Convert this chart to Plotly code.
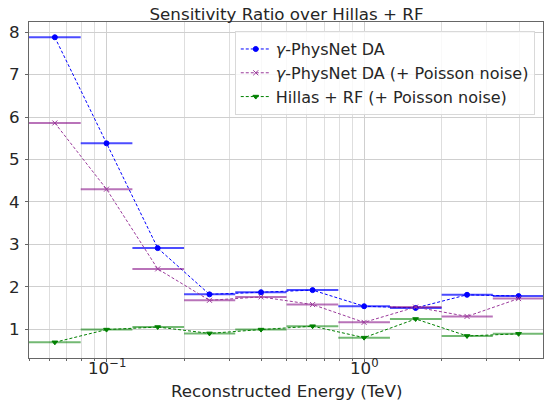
import numpy as np
import plotly.graph_objects as go

energy_lo = [0.05, 0.0794, 0.126, 0.2, 0.316, 0.5, 0.794, 1.26, 2.0, 3.16]
energy_hi = [0.0794, 0.126, 0.2, 0.316, 0.5, 0.794, 1.26, 2.0, 3.16, 5.0]
energy_center = [0.063, 0.1, 0.158, 0.251, 0.398, 0.631, 1.0, 1.585, 2.51, 3.98]

physnet_da = [7.88, 5.38, 2.91, 1.82, 1.87, 1.92, 1.54, 1.50, 1.81, 1.78]
physnet_da_poisson = [5.86, 4.30, 2.42, 1.68, 1.76, 1.58, 1.16, 1.52, 1.30, 1.72]
hillas_rf_poisson = [0.69, 0.99, 1.05, 0.90, 0.99, 1.07, 0.80, 1.24, 0.84, 0.89]

x_tick_vals = [0.1, 1.0]
x_tick_text = ["10<sup>−1</sup>", "10<sup>0</sup>"]

series = [
    ("<i>γ</i>-PhysNet DA", physnet_da, "#0000ff", "rgba(0,0,255,0.7)", "circle", 5),
    ("<i>γ</i>-PhysNet DA (+ Poisson noise)", physnet_da_poisson, "#9b3a9b", "rgba(128,0,128,0.55)", "x-thin-open", 5),
    ("Hillas + RF (+ Poisson noise)", hillas_rf_poisson, "#008000", "rgba(0,128,0,0.55)", "triangle-down", 5),
]

x = np.array(energy_center)
plus = np.array(energy_hi) - x
minus = x - np.array(energy_lo)

fig = go.Figure()
for name, vals, col, ecol, sym, ms in series:
    fig.add_trace(go.Scatter(
        x=energy_center, y=vals, name=name, mode="lines+markers",
        line=dict(color=col, width=1, dash="3px,2px"),
        marker=dict(color=col, symbol=sym, size=ms, line=dict(color=col, width=1)),
        error_x=dict(type="data", symmetric=False, array=plus, arrayminus=minus,
                     color=ecol, thickness=2, width=0),
    ))

minor_vals = []
for dec in [0.01, 0.1, 1.0]:
    for m in range(2, 10):
        v = m * dec
        if 0.05 <= v <= 5.0:
            minor_vals.append(v)

annotations = []
for v, t in zip(x_tick_vals, x_tick_text):
    annotations.append(dict(x=np.log10(v), y=-0.026, xref="x", yref="paper",
                            text=t, showarrow=False, xanchor="center", yanchor="middle",
                            font=dict(size=16.7, color="#262626")))
annotations.append(dict(x=0.5, y=-0.097, xref="paper", yref="paper",
                        text="Reconstructed Energy (TeV)", showarrow=False,
                        xanchor="center", yanchor="middle",
                        font=dict(size=16.7, color="#262626")))

fig.update_layout(
    width=551, height=407,
    margin=dict(l=29, r=8, t=22, b=49, autoexpand=False),
    paper_bgcolor="white", plot_bgcolor="white",
    font=dict(family="DejaVu Sans", size=16.7, color="#262626"),
    title=dict(text="Sensitivity Ratio over Hillas + RF", x=0.52, xanchor="center",
               y=0.9656, yanchor="middle", font=dict(size=16.7, color="#262626")),
    showlegend=True,
    legend=dict(x=0.984, y=0.973, xanchor="right", yanchor="top",
                bgcolor="rgba(255,255,255,0.8)", bordercolor="#d9d9d9", borderwidth=1,
                font=dict(size=16, color="#262626")),
    annotations=annotations,
    xaxis=dict(
        type="log", range=[np.log10(0.05), np.log10(4.95)],
        tickvals=x_tick_vals, showticklabels=False, automargin=False,
        showgrid=True, gridcolor="#cfcfcf", gridwidth=1,
        minor=dict(tickvals=minor_vals, showgrid=True, gridcolor="#dedede", gridwidth=1,
                   ticks="outside", ticklen=2, tickcolor="#666"),
        ticks="outside", ticklen=3, tickcolor="#666",
        showline=True, linecolor="#666", linewidth=1, mirror=True,
        zeroline=False,
    ),
    yaxis=dict(
        range=[0.32, 8.24], tickvals=[1, 2, 3, 4, 5, 6, 7, 8],
        tickfont=dict(size=16.7), automargin=False, ticklabelstandoff=2,
        showgrid=True, gridcolor="#cfcfcf", gridwidth=1,
        ticks="outside", ticklen=3, tickcolor="#666",
        showline=True, linecolor="#666", linewidth=1, mirror=True,
        zeroline=False,
    ),
)

fig.write_html("out.html", config={"displayModeBar": False},
               post_script="document.body.style.margin='0px';")
